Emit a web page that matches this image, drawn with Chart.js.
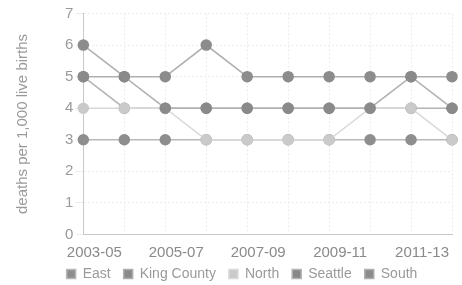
<!DOCTYPE html>
<html>
<head>
<meta charset="utf-8">
<script src="https://cdn.jsdelivr.net/npm/chart.js@4"></script>
<style>
  html, body { margin: 0; padding: 0; background: #fff; }
  #wrap { width: 462px; height: 285px; }
</style>
</head>
<body>
<div id="wrap"><canvas id="lineChart"></canvas></div>
<script>
// periods on the x axis
const periods = ['2003-05', '2004-06', '2005-07', '2006-08', '2007-09',
                 '2008-10', '2009-11', '2010-12', '2011-13', '2012-14'];

// deaths per 1,000 live births
const east       = [3, 3, 3, 3, 3, 3, 3, 3, 3, 3];
const kingCounty = [5, 5, 4, 4, 4, 4, 4, 4, 5, 4];
const north      = [4, 4, 4, 3, 3, 3, 3, 4, 4, 3];
const seattle    = [5, 4, 4, 4, 4, 4, 4, 4, 4, 4];
const south      = [6, 5, 5, 6, 5, 5, 5, 5, 5, 5];

const yTicks = [0, 1, 2, 3, 4, 5, 6, 7];

const FONT = 'Liberation Sans';

function series(label, data, line, point, order) {
    return {
        label: label,
        data: data,
        order: order,
        borderColor: line,
        backgroundColor: point,
        borderWidth: 1.5,
        pointRadius: 5,
        pointBackgroundColor: point,
        pointBorderColor: point,
        tension: 0
    };
}

// x labels sit partly inside the legend band, so widen their clip box
const unclipLabels = {
    id: 'unclipLabels',
    afterLayout(chart) { chart.scales.x.bottom += 12; }
};

new Chart(document.getElementById('lineChart'), {
    type: 'line',
    data: {
        labels: periods,
        datasets: [
            series('East', east, '#b8b8b8', '#8e8e8e', 4),
            series('King County', kingCounty, '#b0b0b0', '#8a8a8a', 0),
            series('North', north, '#d8d8d8', '#cacaca', 2),
            series('Seattle', seattle, '#b4b4b4', '#878787', 3),
            series('South', south, '#b0b0b0', '#8c8c8c', 1)
        ]
    },
    plugins: [unclipLabels],
    options: {
        responsive: true,
        maintainAspectRatio: false,
        animation: false,
        // wide left padding pushes the legend right; the title pulls back with a negative pad
        layout: { padding: { left: 32, right: 10, top: 13.5, bottom: -6 } },
        scales: {
            x: {
                grid: { color: '#ececec', tickLength: 18, tickColor: 'rgba(0,0,0,0)' },
                border: { color: '#c8c8c8', dash: [2, 2] },
                ticks: {
                    color: '#8a8a8a',
                    font: { family: FONT, size: 15, lineHeight: 0.1 },
                    autoSkip: false,
                    maxRotation: 0,
                    labelOffset: 11,
                    padding: 0,
                    callback: function (v, i) { return i % 2 === 0 ? periods[i] : ''; }
                }
            },
            y: {
                min: 0,
                max: 7,
                afterBuildTicks: function (axis) { axis.ticks = yTicks.map(v => ({ value: v })); },
                grid: { color: '#ececec' },
                border: { color: '#c8c8c8', dash: [2, 2] },
                ticks: {
                    color: '#9a9a9a',
                    font: { family: FONT, size: 15 },
                    padding: 2
                },
                title: {
                    display: true,
                    text: 'deaths per 1,000 live births',
                    color: '#9a9a9a',
                    font: { family: FONT, size: 15 },
                    padding: { top: -18, bottom: 31 }
                }
            }
        },
        plugins: {
            legend: {
                position: 'bottom',
                labels: {
                    boxWidth: 9,
                    boxHeight: 9,
                    padding: 13,
                    color: '#9a9a9a',
                    font: { family: FONT, size: 14 },
                    sort: (a, b) => a.datasetIndex - b.datasetIndex
                }
            },
            tooltip: { enabled: false }
        }
    }
});
</script>
</body>
</html>
